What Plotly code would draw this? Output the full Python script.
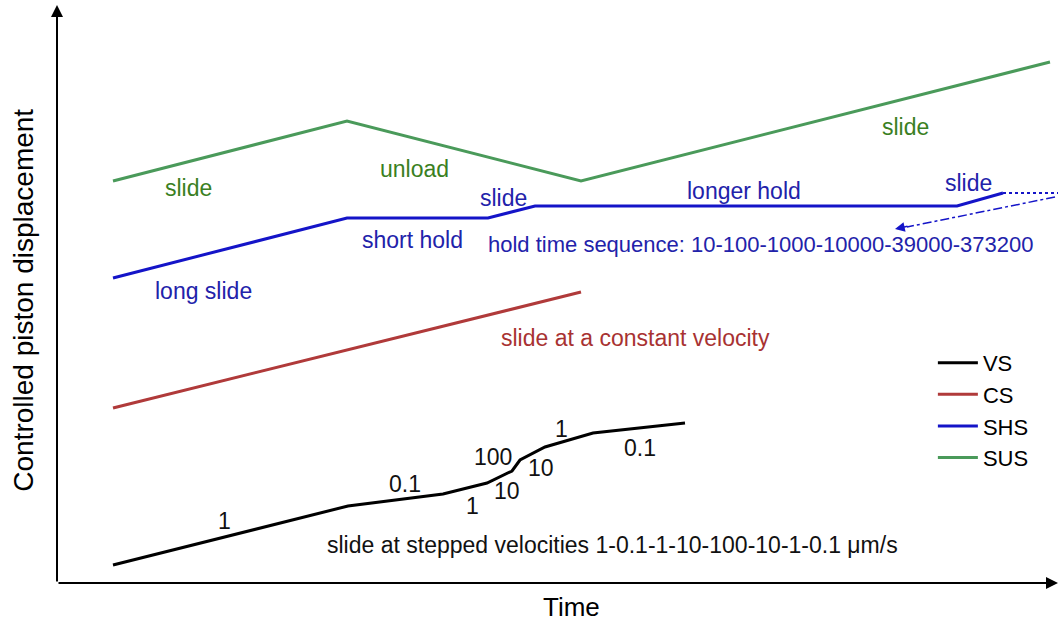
import plotly.graph_objects as go

# Data (time, displacement) in arbitrary units
vs_t = [56, 291, 386, 430, 455, 463, 488, 536, 628]
vs_d = [18, 77, 89, 100, 112, 123, 136, 150, 160]

cs_t = [56, 524]
cs_d = [175, 291]

shs_t = [56, 290, 431, 478, 900, 946]
shs_d = [305, 365, 365, 377, 377, 390]
shs_ext_t = [946, 1001]
shs_ext_d = [390, 390]

sus_t = [56, 290, 524, 993]
sus_d = [402, 462, 402, 521]

series_names = ["VS", "CS", "SHS", "SUS"]
series_colors = ["#000000", "#b03a3a", "#1414c8", "#4a9a5a"]

vs_lbl_t = [167, 348, 415, 436, 450, 484, 504, 583]
vs_lbl_d = [62, 99, 77, 126, 92, 115, 154, 135]
vs_lbl_txt = ["1", "0.1", "1", "100", "10", "10", "1", "0.1"]

shs_lbl_t = [146, 355, 446, 687, 911]
shs_lbl_d = [292, 343, 385, 392, 400]
shs_lbl_txt = ["long slide", "short hold", "slide", "longer hold", "slide"]

sus_lbl_t = [131, 357, 848]
sus_lbl_d = [395, 414, 456]
sus_lbl_txt = ["slide", "unload", "slide"]

FONT = "Liberation Sans, Arial, sans-serif"
XMAX, YMAX = 1001, 578

fig = go.Figure()
fig.add_trace(go.Scatter(x=vs_t, y=vs_d, mode="lines", name="VS",
                         line=dict(color=series_colors[0], width=3)))
fig.add_trace(go.Scatter(x=cs_t, y=cs_d, mode="lines", name="CS",
                         line=dict(color=series_colors[1], width=3)))
fig.add_trace(go.Scatter(x=shs_t, y=shs_d, mode="lines", name="SHS",
                         line=dict(color=series_colors[2], width=3)))
fig.add_trace(go.Scatter(x=sus_t, y=sus_d, mode="lines", name="SUS",
                         line=dict(color=series_colors[3], width=3)))
fig.add_trace(go.Scatter(x=shs_ext_t, y=shs_ext_d, mode="lines", showlegend=False,
                         line=dict(color=series_colors[2], width=2, dash="dot")))
# dash-dot pointer
fig.add_trace(go.Scatter(x=[998, 850], y=[386, 356], mode="lines", showlegend=False,
                         line=dict(color=series_colors[2], width=1.5, dash="dashdot")))

ann = []
# pointer arrowhead
ann.append(dict(x=838, y=354, ax=852, ay=357, xref="x", yref="y", axref="x", ayref="y",
                showarrow=True, arrowhead=2, arrowsize=1.3, arrowwidth=1.5,
                arrowcolor=series_colors[2], text=""))
# axis arrows
ann.append(dict(x=XMAX, y=0, ax=0, ay=0, xref="x", yref="y", axref="x", ayref="y",
                showarrow=True, arrowhead=2, arrowsize=1.2, arrowwidth=2,
                arrowcolor="black", text=""))
ann.append(dict(x=0, y=YMAX, ax=0, ay=0, xref="x", yref="y", axref="x", ayref="y",
                showarrow=True, arrowhead=2, arrowsize=1.2, arrowwidth=2,
                arrowcolor="black", text=""))

lbl_font = dict(family=FONT, size=23)
for t, d, s in zip(vs_lbl_t, vs_lbl_d, vs_lbl_txt):
    ann.append(dict(x=t, y=d, text=s, showarrow=False, font=dict(lbl_font, color="#111111")))
for t, d, s in zip(shs_lbl_t, shs_lbl_d, shs_lbl_txt):
    ann.append(dict(x=t, y=d, text=s, showarrow=False, font=dict(lbl_font, color="#2222aa")))
for t, d, s in zip(sus_lbl_t, sus_lbl_d, sus_lbl_txt):
    ann.append(dict(x=t, y=d, text=s, showarrow=False, font=dict(lbl_font, color="#3a7f22")))

ann.append(dict(x=555, y=38, text="slide at stepped velocities 1-0.1-1-10-100-10-1-0.1 \u03bcm/s",
                showarrow=False, font=dict(lbl_font, color="#111111")))
ann.append(dict(x=578, y=245, text="slide at a constant velocity",
                showarrow=False, font=dict(lbl_font, color="#a83232")))
ann.append(dict(x=704, y=339, text="hold time sequence: 10-100-1000-10000-39000-373200",
                showarrow=False, font=dict(family=FONT, size=22, color="#2222aa")))
for a in ann:
    a.setdefault("xref", "x")
    a.setdefault("yref", "y")

ann.append(dict(x=0.5135, y=-0.0415, xref="paper", yref="paper", text="Time", showarrow=False,
                xanchor="center", yanchor="middle",
                font=dict(family=FONT, size=26, color="black")))
ann.append(dict(x=-0.033, y=0.49, xref="paper", yref="paper",
                text="Controlled piston displacement", showarrow=False,
                xanchor="center", yanchor="middle",
                textangle=-90, font=dict(family=FONT, size=28, color="black")))

fig.update_layout(
    width=1060, height=627,
    margin=dict(l=57, r=2, t=5, b=44),
    paper_bgcolor="white", plot_bgcolor="white",
    font=dict(family=FONT, size=20, color="black"),
    xaxis=dict(range=[0, XMAX], showgrid=False, zeroline=False, showticklabels=False,
               showline=False, ticks=""),
    yaxis=dict(range=[0, YMAX], showgrid=False, zeroline=False, showticklabels=False,
               showline=False, ticks=""),
    legend=dict(x=0.875, y=0.417, xanchor="left", yanchor="top", bgcolor="rgba(0,0,0,0)",
                font=dict(family=FONT, size=22, color="black"), tracegroupgap=0,
                itemwidth=40),
    annotations=ann,
    showlegend=True,
)

fig.write_html("out.html")
